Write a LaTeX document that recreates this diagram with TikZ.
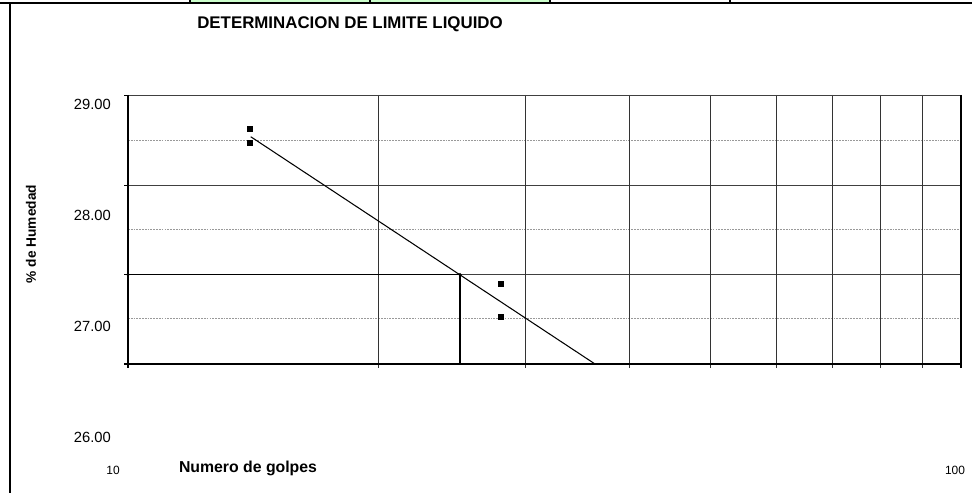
\documentclass[tikz,border=0pt]{standalone}
\usepackage{fontspec}
\setmainfont{Liberation Sans}
\definecolor{celdaverde}{RGB}{204,255,204}
\newcommand{\fsz}[1]{\fontsize{#1}{#1}\selectfont}
\tikzset{
	gridmayor/.style={black!75,line width=0.5pt},
	gridmenor/.style={black!40,line width=0.5pt,dash pattern=on 1pt off 0.6pt},
	gridvert/.style={black!80,line width=0.5pt},
	punto/.style={fill=black,minimum size=3.8pt,inner sep=0pt},
}

\begin{document}
\begin{tikzpicture}[x=0.02cm,y=-0.02cm]
	\useasboundingbox (0,0) rectangle (972,493);
	% fila de la tabla arriba
	\fill[celdaverde] (190,0) rectangle (550,2);
	\draw[line width=1.2pt] (0,3) -- (972,3);
	\foreach \c in {190,370,550,730} \draw[line width=0.8pt] (\c,0) -- (\c,3);
	\draw[line width=1.2pt] (10,3) -- (10,493);
	% textos
	\node[font=\bfseries\fsz{9.6}] (titulo) at (350,24) {DETERMINACION DE LIMITE LIQUIDO};
	\node[font=\bfseries\fsz{7.8},rotate=90] (ylab) at (31,234) {\% de Humedad};
	\node[font=\bfseries\fsz{9}] (xlab) at (248,468) {Numero de golpes};
	\node[font=\fsz{6.8}] (x10) at (113,470) {10};
	\node[font=\fsz{6.8}] (x100) at (955,470) {100};
	\foreach \v/\y in {29/104,28/215,27/326,26/437}
		\node[font=\fsz{8.4},anchor=east] (y\v) at (117,\y) {\v.00};
	% rejilla
	\foreach \y in {140,229,318} \draw[gridmenor] (128,\y) -- (961,\y);
	\foreach \y in {185,274} \draw[gridmayor] (128,\y) -- (961,\y);
	\foreach \n in {20,30,...,90} \draw[gridvert] ({128+833*ln(\n/10)/ln(10)},95) -- ({128+833*ln(\n/10)/ln(10)},368);
	\draw[gridmayor] (128,95) -- (961,95);
	\foreach \y in {95,185,274,364} \draw[line width=0.5pt] (124,\y) -- (128,\y);
	\draw[line width=0.6pt] (128,95) -- (128,368);
	\draw[line width=0.8pt] (961,95) -- (961,368);
	\draw[line width=1.1pt] (124,364) -- (962,364);
	% datos
	\foreach \p in {(250,129),(250,143),(501,284),(501,317)} \node[punto] at \p {};
	\coordinate (ini) at (250.7,136.7);
	\coordinate (fin) at (595,364);
	\coordinate (ll) at (460,274.6);
	\coordinate (ejeY) at (128,274.6);
	\coordinate (ejeX) at (460,364);
	\draw[line width=0.6pt] (ini) -- (fin);
	\draw[line width=0.7pt] (ejeY) -- (ll) -- (ejeX);
	\fill (ll) circle (1.8);
	\fill (ejeY) circle (1.8);
\end{tikzpicture}
\end{document}
